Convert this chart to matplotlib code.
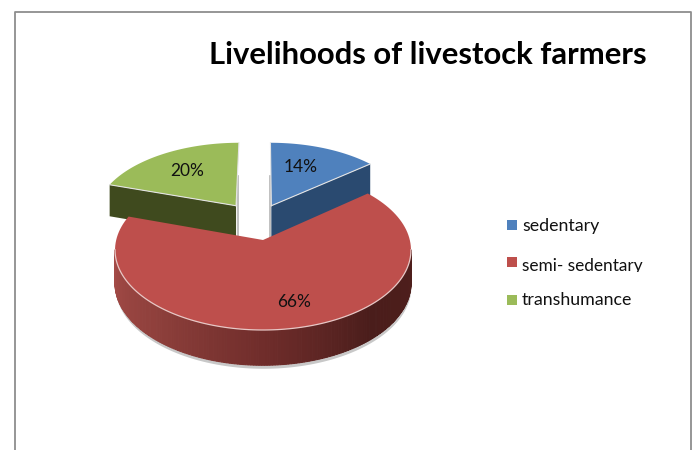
import numpy as np
import matplotlib
matplotlib.use("Agg")
from matplotlib import pyplot as plt
from matplotlib.colors import LinearSegmentedColormap
from matplotlib.patches import Rectangle
from matplotlib.transforms import Bbox

# data
categories = ["sedentary", "semi- sedentary", "transhumance"]
shares = [14, 66, 20]
title = "Livelihoods of livestock farmers"

plt.rcParams['font.family'] = ['Lato', 'DejaVu Sans']

# perspective of the disc (pixels of the 696x450 picture)
cx, cy = 263, 240
scale_x, scale_y = 146.8, 78.75
persp = 0.125
depth = 33

# slice look
offsets = [(0.06, 0.46), (0.0, 0.0), (-0.194, 0.46)]
top_colors = ["#4F81BD", "#BE4F4C", "#9BBB59"]
wall_colors = ["#2A4A70", "#7B3230", "#3F4A1E"]
label_pos = [(301, 167), (294, 302), (187, 171)]
legend_y = [225, 262, 300]
legend_text_y = [226, 266, 300]


def project(x, y, drop=False):
    w = 1 + persp * y
    sx = cx + scale_x * x / w
    sy = cy - scale_y * y / w
    if drop:
        sy = sy + depth / np.sqrt(w)
    return sx, sy


def rim(start, stop, off, n=120):
    # angles run clockwise from north, like a pie chart
    t = np.radians(np.linspace(start, stop, n))
    return off[0] + np.sin(t), off[1] + np.cos(t)


fig = plt.figure(figsize=(6.96, 4.5), dpi=100)
ax = fig.add_axes([0, 0, 1, 1])
ax.set_xlim(0, 696)
ax.set_ylim(450, 0)
ax.axis("off")

# chart frame
ax.plot([15, 15, 691, 691], [451, 12, 12, 451], color="#8E8E8E", lw=1.3, zorder=1)

fracs = np.array(shares) / sum(shares)
edges = np.concatenate([[0], np.cumsum(fracs)]) * 360

side_cmap = LinearSegmentedColormap.from_list(
    "side", ["#A44B47", "#8F403C", "#702D2B", "#4A1D1B", "#4F1F1C"])

# soft shadow under the pie
sx, sy = project(*rim(97, 263, offsets[1]), drop=True)
ax.fill_between(sx, sy, sy + 3, color="#C8C8C8", lw=0, zorder=2)

for i in [0, 2, 1]:
    off = offsets[i]
    a0, a1 = edges[i], edges[i + 1]
    xr, yr = rim(a0, a1, off)
    # top face outline, apex + arc
    xs = np.concatenate([[off[0]], xr])
    ys = np.concatenate([[off[1]], yr])
    z = 3 + i if i != 1 else 6

    if i == 1:
        # curved wall with a left-right shade, only the part facing the viewer
        ts = np.linspace(97, 263, 180)
        for t0, t1 in zip(ts[:-1], ts[1:]):
            xq, yq = rim(t0, t1, off, n=4)
            x1, y1 = project(xq, yq)
            x2, y2 = project(xq, yq, drop=True)
            shade = side_cmap((263 - t0) / 166)
            ax.fill(np.r_[x1, x2[::-1]], np.r_[y1, y2[::-1]], facecolor=shade, edgecolor=shade,
                    lw=0.8, zorder=z)
    else:
        # flat cut wall facing the viewer
        if i == 0:
            xw, yw = [off[0], xr[-1]], [off[1], yr[-1]]
        else:
            xw, yw = [xr[0], off[0]], [yr[0], off[1]]
        xw, yw = np.array(xw), np.array(yw)
        x1, y1 = project(xw, yw)
        x2, y2 = project(xw, yw, drop=True)
        ax.fill(np.r_[x1, x2[::-1]], np.r_[y1, y2[::-1]], color=wall_colors[i], lw=0, zorder=z)
        # thin grey edge beside the gap
        xa, ya = project(off[0], off[1])
        xa2, ya2 = project(off[0], off[1], drop=True)
        gap = -1.5 if i == 0 else 1.5
        ax.plot([xa + gap, xa + gap], [ya - 30, ya2], color="#B5B5B5", lw=1.2, zorder=z - 0.5)

    px, py = project(xs, ys)
    ax.fill(px, py, color=top_colors[i], lw=0, zorder=z + 0.5)
    # pale rim on the top face
    if i == 1:
        fx, fy = project(*rim(97, 263, off))
        ax.plot(fx, fy, color="#E8C8C6", lw=0.9, zorder=z + 0.6)
    else:
        ax.plot([px[0], px[1 if i == 0 else -1]], [py[0], py[1 if i == 0 else -1]],
                color="#E4E4E4", lw=0.8, zorder=z + 0.6)
        ax.plot([px[0], px[-1 if i == 0 else 1]], [py[0], py[-1 if i == 0 else 1]],
                color="#E4E4E4", lw=0.8, zorder=z + 0.6)

    ax.text(label_pos[i][0], label_pos[i][1], f"{shares[i]}%", fontsize=12.5, color="#111111",
            ha="center", va="center", zorder=10)

ax.text(428, 55, title, fontsize=22.3, fontweight="bold", color="#000000",
        ha="center", va="center", zorder=10)

# legend, placed by hand because the spacing is uneven
for i, name in enumerate(categories):
    ax.add_patch(Rectangle((507, legend_y[i] - 5), 9.5, 10, color=top_colors[i], lw=0, zorder=10))
    txt = ax.text(522, legend_text_y[i], name, fontsize=12.8 if i != 1 else 12.4, color="#111111",
                  ha="left", va="center", zorder=10)
    if i == 1:
        # bottom of this entry is cut off in the chart
        txt.set_clip_on(True)
        txt.set_clip_box(Bbox([[500, 450 - 271.5], [690, 450 - 250]]))

fig.savefig("out.png", dpi=100)
